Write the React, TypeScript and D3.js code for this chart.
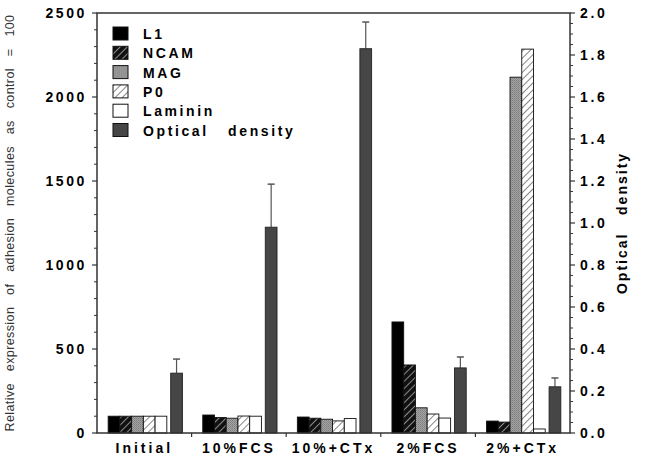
import React from "react";
import * as d3 from "d3";

const groups = ["Initial", "10%FCS", "10%+CTx", "2%FCS", "2%+CTx"];
const l1 = [100, 107, 95, 661, 71];
const ncam = [100, 92, 88, 405, 65];
const mag = [100, 88, 82, 150, 2118];
const p0 = [100, 101, 72, 113, 2285];
const laminin = [100, 100, 86, 89, 24];
const opticalDensity = [0.285, 0.98, 1.83, 0.31, 0.22];
const odError = [0.067, 0.205, 0.127, 0.052, 0.042];
const legendLabels = ["L1", "NCAM", "MAG", "P0", "Laminin", "Optical   density"];

const W = 646;
const H = 461;
const margin = { top: 13, right: 76, bottom: 28, left: 97 };
const font = "'Liberation Sans', Arial, Helvetica, sans-serif";

export default function App() {
  const innerW = W - margin.left - margin.right;
  const innerH = H - margin.top - margin.bottom;
  const x0 = margin.left;
  const x1 = margin.left + innerW;
  const yBottom = margin.top + innerH;

  const xGroup = d3.scaleBand().domain(groups).range([x0, x1]).padding(0);
  const gw = xGroup.bandwidth();
  // slot positions inside a group: 5 adhesion bars, small gap, OD bar
  const barW = gw * 0.124;
  const slot = d3.scaleLinear().domain([0, 1]).range([gw * 0.118, gw * 0.118 + barW]);
  const odSlot = 5.33;

  const yLeft = d3.scaleLinear().domain([0, 2500]).range([yBottom, margin.top]);
  const yRight = d3.scaleLinear().domain([0, 2]).range([yBottom, margin.top]);

  const values = [l1, ncam, mag, p0, laminin];
  const fills = ["#000", "url(#hatchDark)", "url(#stipple)", "url(#hatchLight)", "#fff"];

  const leftMajor = yLeft.ticks(5);
  const leftMinor = d3.range(0, 2501, 100).filter((v) => v % 500 !== 0);
  const rightMajor = d3.range(0, 2.001, 0.2);
  const rightMinor = d3.range(0, 2.001, 0.05).filter((v) => Math.abs(v / 0.2 - Math.round(v / 0.2)) > 0.01);

  const lblStyle: React.CSSProperties = { fontFamily: font, fontWeight: "bold", fontSize: 14, letterSpacing: 2.6 };

  return (
    <svg width={W} height={H} style={{ position: "absolute", left: 0, top: 0, background: "#fff" }}>
      <defs>
        <pattern id="hatchDark" patternUnits="userSpaceOnUse" width={5} height={5} patternTransform="rotate(45)">
          <rect width={5} height={5} fill="#111" />
          <line x1={0} y1={0} x2={0} y2={5} stroke="#aaa" strokeWidth={1.6} />
        </pattern>
        <pattern id="hatchLight" patternUnits="userSpaceOnUse" width={5} height={5} patternTransform="rotate(45)">
          <rect width={5} height={5} fill="#fff" />
          <line x1={0} y1={0} x2={0} y2={5} stroke="#777" strokeWidth={1.8} />
        </pattern>
        <pattern id="stipple" patternUnits="userSpaceOnUse" width={2} height={2}>
          <rect width={2} height={2} fill="#a4a4a4" />
          <rect width={1} height={1} fill="#7c7c7c" />
          <rect x={1} y={1} width={1} height={1} fill="#8a8a8a" />
        </pattern>
      </defs>

      {/* bars */}
      {groups.map((g, gi) => {
        const gx = xGroup(g)!;
        const odX = gx + slot(odSlot);
        const errTop = yRight(opticalDensity[gi] + odError[gi]);
        return (
          <g key={g}>
            {values.map((vals, si) => (
              <rect
                key={si}
                x={gx + slot(si)}
                y={yLeft(vals[gi])}
                width={barW}
                height={yBottom - yLeft(vals[gi])}
                fill={fills[si]}
                stroke="#111"
                strokeWidth={0.9}
              />
            ))}
            <line
              x1={odX + barW / 2}
              x2={odX + barW / 2}
              y1={yRight(opticalDensity[gi])}
              y2={errTop}
              stroke="#555"
              strokeWidth={1.2}
            />
            <line x1={odX + barW / 2 - 3.5} x2={odX + barW / 2 + 3.5} y1={errTop} y2={errTop} stroke="#555" strokeWidth={1.5} />
            <rect
              x={odX}
              y={yRight(opticalDensity[gi])}
              width={barW}
              height={yBottom - yRight(opticalDensity[gi])}
              fill="#464646"
              stroke="#222"
              strokeWidth={0.9}
            />
            <text x={gx + gw / 2} y={H - 8} textAnchor="middle" style={{ ...lblStyle, letterSpacing: 3 }}>
              {g}
            </text>
          </g>
        );
      })}

      {/* frame */}
      <rect x={x0} y={margin.top} width={innerW} height={innerH} fill="none" stroke="#333" strokeWidth={1.5} />

      {/* x ticks between groups */}
      {groups.slice(1).map((g) => (
        <line key={g} x1={xGroup(g)} x2={xGroup(g)} y1={yBottom} y2={yBottom + 4} stroke="#333" strokeWidth={1.2} />
      ))}

      {/* left axis */}
      {leftMajor.map((v) => (
        <g key={v}>
          <line x1={x0 - 5} x2={x0} y1={yLeft(v)} y2={yLeft(v)} stroke="#333" strokeWidth={1.2} />
          <text x={x0 - 10} y={yLeft(v) + 5} textAnchor="end" style={lblStyle}>
            {v}
          </text>
        </g>
      ))}
      {leftMinor.map((v) => (
        <line key={v} x1={x0 - 3} x2={x0} y1={yLeft(v)} y2={yLeft(v)} stroke="#333" strokeWidth={1} />
      ))}

      {/* right axis */}
      {rightMajor.map((v) => (
        <g key={v}>
          <line x1={x1} x2={x1 + 5} y1={yRight(v)} y2={yRight(v)} stroke="#333" strokeWidth={1.2} />
          <text x={x1 + 10} y={yRight(v) + 5} textAnchor="start" style={lblStyle}>
            {d3.format(".1f")(v)}
          </text>
        </g>
      ))}
      {rightMinor.map((v) => (
        <line key={v} x1={x1} x2={x1 + 3} y1={yRight(v)} y2={yRight(v)} stroke="#333" strokeWidth={1} />
      ))}

      {/* axis titles */}
      <text
        transform={`translate(14,${margin.top + innerH / 2}) rotate(-90)`}
        textAnchor="middle"
        style={{ fontFamily: font, fontSize: 12.5, fill: "#333", wordSpacing: 8, letterSpacing: 0.4 }}
      >
        Relative expression of adhesion molecules as control = 100
      </text>
      <text
        transform={`translate(627,${margin.top + innerH / 2}) rotate(-90)`}
        textAnchor="middle"
        style={{ ...lblStyle, whiteSpace: "pre", letterSpacing: 2 }}
      >
        {"Optical   density"}
      </text>

      {/* legend */}
      {legendLabels.map((lab, i) => (
        <g key={lab} transform={`translate(113,${27 + i * 19.3})`}>
          <rect width={15} height={13} fill={i < 5 ? fills[i] : "#464646"} stroke="#111" strokeWidth={1} />
          <text x={30} y={12} style={{ ...lblStyle, whiteSpace: "pre" }}>
            {lab}
          </text>
        </g>
      ))}
    </svg>
  );
}
